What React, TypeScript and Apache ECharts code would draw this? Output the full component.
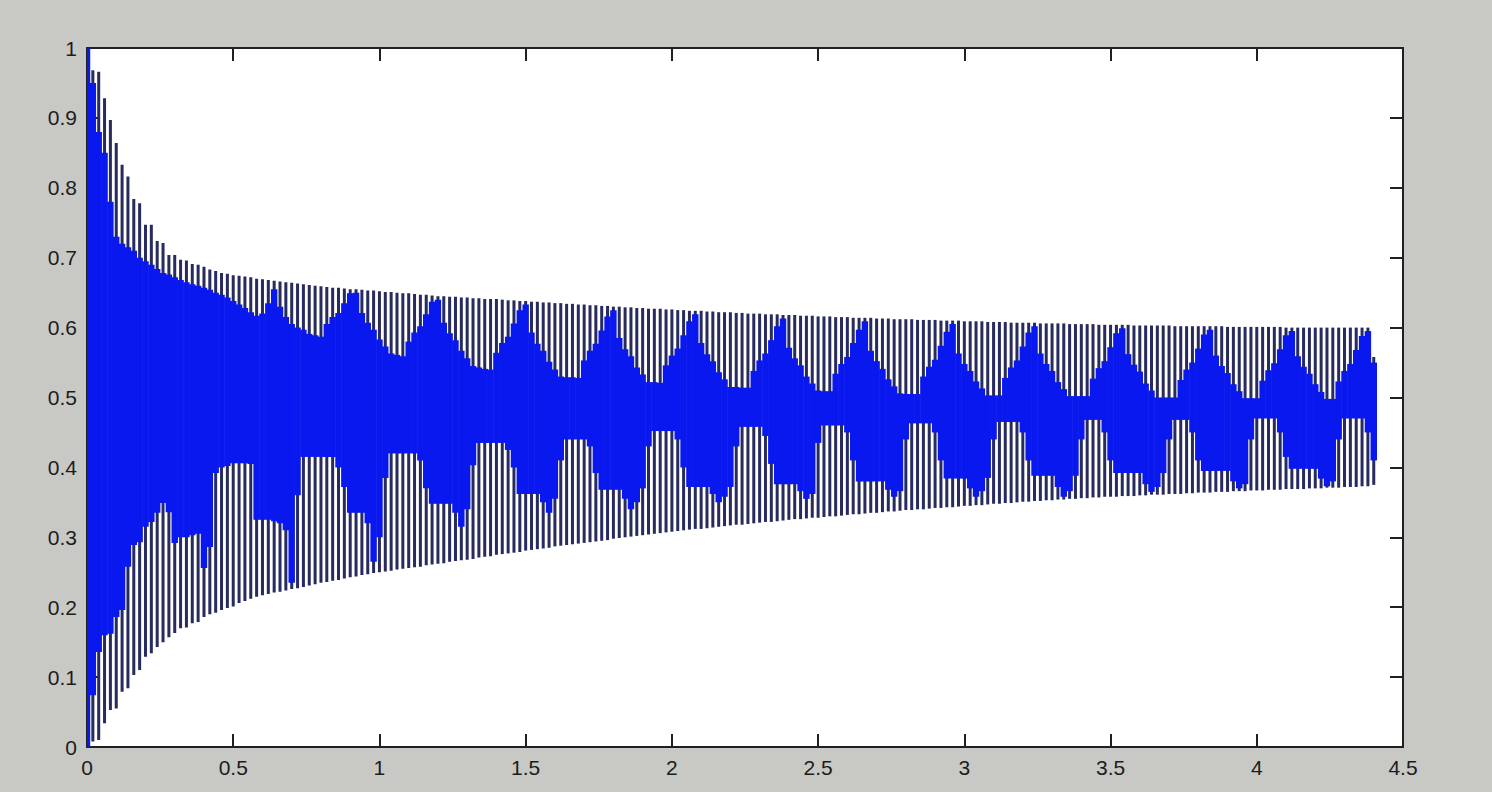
import React, { useEffect, useRef } from "react";
import * as echarts from "echarts";

// sample positions of the oscillation (one stripe each)
const xs = [
  0.00,0.02,0.04,0.06,0.08,0.10,0.12,0.14,0.16,0.18,
  0.20,0.22,0.24,0.26,0.28,0.30,0.32,0.34,0.36,0.38,
  0.40,0.42,0.44,0.46,0.48,0.50,0.52,0.54,0.56,0.58,
  0.60,0.62,0.64,0.66,0.68,0.70,0.72,0.74,0.76,0.78,
  0.80,0.82,0.84,0.86,0.88,0.90,0.92,0.94,0.96,0.98,
  1.00,1.02,1.04,1.06,1.08,1.10,1.12,1.14,1.16,1.18,
  1.20,1.22,1.24,1.26,1.28,1.30,1.32,1.34,1.36,1.38,
  1.40,1.42,1.44,1.46,1.48,1.50,1.52,1.54,1.56,1.58,
  1.60,1.62,1.64,1.66,1.68,1.70,1.72,1.74,1.76,1.78,
  1.80,1.82,1.84,1.86,1.88,1.90,1.92,1.94,1.96,1.98,
  2.00,2.02,2.04,2.06,2.08,2.10,2.12,2.14,2.16,2.18,
  2.20,2.22,2.24,2.26,2.28,2.30,2.32,2.34,2.36,2.38,
  2.40,2.42,2.44,2.46,2.48,2.50,2.52,2.54,2.56,2.58,
  2.60,2.62,2.64,2.66,2.68,2.70,2.72,2.74,2.76,2.78,
  2.80,2.82,2.84,2.86,2.88,2.90,2.92,2.94,2.96,2.98,
  3.00,3.02,3.04,3.06,3.08,3.10,3.12,3.14,3.16,3.18,
  3.20,3.22,3.24,3.26,3.28,3.30,3.32,3.34,3.36,3.38,
  3.40,3.42,3.44,3.46,3.48,3.50,3.52,3.54,3.56,3.58,
  3.60,3.62,3.64,3.66,3.68,3.70,3.72,3.74,3.76,3.78,
  3.80,3.82,3.84,3.86,3.88,3.90,3.92,3.94,3.96,3.98,
  4.00,4.02,4.04,4.06,4.08,4.10,4.12,4.14,4.16,4.18,
  4.20,4.22,4.24,4.26,4.28,4.30,4.32,4.34,4.36,4.38,
  4.40,
];

// outer upper envelope (top of each stripe)
const hi = [
  1.000,0.968,0.966,0.928,0.897,0.864,0.833,0.816,0.784,0.778,
  0.747,0.747,0.724,0.721,0.704,0.704,0.697,0.696,0.691,0.690,
  0.687,0.683,0.681,0.678,0.677,0.675,0.674,0.673,0.672,0.670,
  0.669,0.668,0.667,0.666,0.665,0.664,0.663,0.662,0.661,0.660,
  0.659,0.658,0.657,0.657,0.656,0.655,0.655,0.654,0.653,0.653,
  0.652,0.651,0.651,0.650,0.649,0.649,0.648,0.647,0.647,0.646,
  0.645,0.645,0.644,0.644,0.643,0.643,0.642,0.642,0.641,0.641,
  0.641,0.640,0.639,0.639,0.638,0.638,0.637,0.637,0.636,0.636,
  0.635,0.635,0.634,0.634,0.633,0.633,0.632,0.632,0.631,0.631,
  0.630,0.630,0.629,0.629,0.628,0.628,0.627,0.627,0.627,0.626,
  0.626,0.625,0.625,0.624,0.624,0.624,0.623,0.623,0.622,0.622,
  0.622,0.621,0.621,0.620,0.620,0.620,0.619,0.619,0.619,0.618,
  0.618,0.618,0.617,0.617,0.617,0.616,0.616,0.616,0.615,0.615,
  0.615,0.614,0.614,0.614,0.614,0.613,0.613,0.613,0.612,0.612,
  0.612,0.612,0.611,0.611,0.611,0.611,0.610,0.610,0.610,0.610,
  0.609,0.609,0.609,0.609,0.608,0.608,0.608,0.608,0.607,0.607,
  0.607,0.607,0.607,0.606,0.606,0.606,0.606,0.606,0.605,0.605,
  0.605,0.605,0.605,0.604,0.604,0.604,0.604,0.604,0.604,0.603,
  0.603,0.603,0.603,0.603,0.603,0.603,0.602,0.602,0.602,0.602,
  0.602,0.602,0.602,0.602,0.602,0.601,0.601,0.601,0.601,0.601,
  0.601,0.601,0.601,0.601,0.601,0.600,0.600,0.600,0.600,0.600,
  0.600,0.600,0.600,0.600,0.600,0.600,0.600,0.600,0.600,0.600,
  0.558,
];

// upper edge of the solid band
const top = [
  1.000,0.950,0.880,0.850,0.780,0.730,0.720,0.715,0.710,0.700,
  0.695,0.690,0.684,0.678,0.676,0.672,0.668,0.665,0.662,0.660,
  0.657,0.654,0.650,0.647,0.643,0.638,0.633,0.628,0.622,0.617,
  0.620,0.635,0.655,0.630,0.615,0.605,0.600,0.597,0.591,0.589,
  0.587,0.605,0.615,0.621,0.635,0.649,0.650,0.621,0.607,0.597,
  0.583,0.573,0.563,0.561,0.559,0.580,0.593,0.602,0.619,0.637,
  0.640,0.607,0.592,0.582,0.567,0.556,0.545,0.543,0.541,0.540,
  0.564,0.578,0.587,0.606,0.625,0.633,0.593,0.577,0.567,0.551,
  0.540,0.530,0.529,0.529,0.528,0.553,0.567,0.577,0.596,0.616,
  0.625,0.585,0.569,0.559,0.543,0.533,0.522,0.522,0.521,0.546,
  0.560,0.570,0.589,0.609,0.619,0.578,0.562,0.552,0.536,0.526,
  0.515,0.515,0.514,0.514,0.538,0.553,0.563,0.582,0.602,0.613,
  0.571,0.556,0.546,0.530,0.520,0.510,0.509,0.509,0.534,0.548,
  0.558,0.578,0.597,0.609,0.567,0.552,0.541,0.526,0.516,0.506,
  0.505,0.505,0.505,0.530,0.544,0.554,0.574,0.594,0.605,0.563,
  0.548,0.538,0.523,0.513,0.503,0.503,0.503,0.528,0.543,0.553,
  0.573,0.593,0.602,0.563,0.548,0.538,0.522,0.512,0.502,0.502,
  0.502,0.502,0.527,0.542,0.552,0.572,0.592,0.599,0.562,0.547,
  0.537,0.520,0.510,0.500,0.500,0.500,0.500,0.525,0.540,0.550,
  0.570,0.590,0.597,0.560,0.545,0.535,0.519,0.509,0.499,0.499,
  0.499,0.524,0.539,0.549,0.569,0.589,0.595,0.559,0.544,0.534,
  0.519,0.508,0.498,0.498,0.523,0.538,0.548,0.568,0.588,0.595,
  0.550,
];

// lower edge of the solid band
const bot = [
  0.000,0.074,0.136,0.160,0.162,0.186,0.196,0.258,0.289,0.293,
  0.315,0.322,0.335,0.349,0.336,0.292,0.300,0.300,0.303,0.305,
  0.256,0.286,0.392,0.400,0.402,0.406,0.406,0.406,0.405,0.325,
  0.325,0.325,0.323,0.320,0.310,0.235,0.360,0.415,0.415,0.415,
  0.415,0.415,0.415,0.400,0.372,0.335,0.335,0.335,0.320,0.265,
  0.300,0.385,0.420,0.420,0.420,0.420,0.420,0.410,0.370,0.348,
  0.348,0.348,0.348,0.335,0.315,0.340,0.403,0.435,0.435,0.435,
  0.435,0.435,0.425,0.400,0.362,0.362,0.362,0.362,0.350,0.335,
  0.355,0.410,0.440,0.440,0.440,0.440,0.430,0.392,0.368,0.368,
  0.368,0.368,0.355,0.340,0.350,0.370,0.430,0.452,0.452,0.452,
  0.452,0.440,0.400,0.372,0.372,0.372,0.372,0.362,0.350,0.358,
  0.372,0.430,0.458,0.458,0.458,0.458,0.445,0.405,0.376,0.376,
  0.376,0.376,0.366,0.355,0.362,0.435,0.460,0.460,0.460,0.460,
  0.450,0.410,0.380,0.380,0.380,0.380,0.380,0.368,0.358,0.366,
  0.440,0.463,0.463,0.463,0.463,0.450,0.410,0.384,0.384,0.384,
  0.384,0.370,0.358,0.366,0.385,0.440,0.465,0.465,0.465,0.465,
  0.450,0.410,0.388,0.388,0.388,0.388,0.372,0.358,0.366,0.388,
  0.440,0.468,0.468,0.468,0.450,0.410,0.392,0.392,0.392,0.392,
  0.392,0.376,0.365,0.372,0.392,0.440,0.468,0.468,0.468,0.450,
  0.410,0.395,0.395,0.395,0.395,0.395,0.380,0.370,0.376,0.440,
  0.470,0.470,0.470,0.470,0.450,0.415,0.398,0.398,0.398,0.398,
  0.398,0.384,0.373,0.380,0.440,0.470,0.470,0.470,0.470,0.450,
  0.410,
];

// outer lower envelope (bottom of each stripe)
const lo = [
  0.000,0.008,0.010,0.034,0.053,0.055,0.079,0.084,0.103,0.110,
  0.129,0.134,0.143,0.150,0.157,0.163,0.170,0.171,0.177,0.179,
  0.186,0.190,0.192,0.196,0.199,0.201,0.206,0.209,0.212,0.215,
  0.217,0.219,0.221,0.222,0.224,0.226,0.227,0.229,0.231,0.233,
  0.235,0.236,0.238,0.239,0.241,0.243,0.244,0.246,0.247,0.249,
  0.250,0.251,0.252,0.254,0.255,0.256,0.257,0.258,0.260,0.261,
  0.262,0.263,0.265,0.266,0.267,0.268,0.269,0.271,0.272,0.273,
  0.275,0.276,0.277,0.278,0.279,0.281,0.282,0.283,0.284,0.285,
  0.287,0.288,0.289,0.290,0.291,0.292,0.293,0.294,0.295,0.296,
  0.298,0.299,0.300,0.301,0.302,0.303,0.304,0.305,0.306,0.307,
  0.308,0.309,0.310,0.311,0.312,0.312,0.313,0.314,0.315,0.316,
  0.317,0.318,0.318,0.319,0.320,0.321,0.322,0.322,0.323,0.324,
  0.325,0.326,0.326,0.327,0.328,0.328,0.329,0.330,0.330,0.331,
  0.332,0.333,0.333,0.334,0.335,0.335,0.336,0.337,0.337,0.338,
  0.339,0.339,0.340,0.340,0.341,0.342,0.342,0.343,0.343,0.344,
  0.345,0.345,0.346,0.346,0.347,0.348,0.348,0.349,0.349,0.350,
  0.351,0.351,0.352,0.352,0.353,0.353,0.354,0.354,0.355,0.355,
  0.356,0.356,0.357,0.357,0.358,0.358,0.358,0.359,0.359,0.359,
  0.360,0.360,0.361,0.361,0.361,0.362,0.362,0.362,0.363,0.363,
  0.364,0.364,0.364,0.365,0.365,0.365,0.366,0.366,0.366,0.367,
  0.367,0.367,0.368,0.368,0.368,0.369,0.369,0.369,0.369,0.370,
  0.370,0.370,0.371,0.371,0.371,0.372,0.372,0.372,0.373,0.373,
  0.375,
];

const X_MIN = 0, X_MAX = 4.5, X_STEP = 0.5;
const Y_MIN = 0, Y_MAX = 1, Y_STEP = 0.1;
const SAMPLE_HALF = 0.01;

const FONT = "'Liberation Sans', Arial, Helvetica, sans-serif";
const AXIS_COLOR = "#202020";
const BAND_COLOR = "#0a18f0";
const STRIPE_COLOR = "#272b5e";

export default function App() {
  const ref = useRef<HTMLDivElement>(null);

  useEffect(() => {
    if (!ref.current) return;
    const chart = echarts.init(ref.current, null, { renderer: "svg" });
    const rows = xs.map((x, i) => [x, hi[i], top[i], bot[i], lo[i]]);

    const stripeItem = (params: any, api: any) => {
      const x = api.value(0);
      const p1 = api.coord([x, api.value(1)]);
      const p2 = api.coord([x, api.value(4)]);
      const cs = params.coordSys;
      const rect = echarts.graphic.clipRectByRect(
        { x: p1[0] - 1.5, y: p1[1], width: 3, height: p2[1] - p1[1] },
        { x: cs.x, y: cs.y, width: cs.width, height: cs.height }
      );
      if (!rect) return null;
      return { type: "rect", shape: rect, style: { fill: STRIPE_COLOR } };
    };

    const bandItem = (params: any, api: any) => {
      const x = api.value(0);
      const a = api.coord([x - SAMPLE_HALF, api.value(2)]);
      const b = api.coord([x + SAMPLE_HALF, api.value(3)]);
      const cs = params.coordSys;
      const rect = echarts.graphic.clipRectByRect(
        { x: a[0] - 0.3, y: a[1], width: b[0] - a[0] + 0.6, height: b[1] - a[1] },
        { x: cs.x, y: cs.y, width: cs.width, height: cs.height }
      );
      if (!rect) return null;
      return { type: "rect", shape: rect, style: { fill: BAND_COLOR } };
    };

    const tick = { show: true, inside: true, length: 13, lineStyle: { color: AXIS_COLOR, width: 2 } };
    const line = { show: true, onZero: false, lineStyle: { color: AXIS_COLOR, width: 2 } };
    const label = { fontFamily: FONT, fontSize: 21, color: "#1c1c1c", margin: 10 };

    chart.setOption({
      animation: false,
      backgroundColor: "#c8c9c4",
      grid: {
        left: 87, right: 89, top: 48, bottom: 45,
        show: true, backgroundColor: "#ffffff", borderWidth: 0,
      },
      xAxis: [
        { type: "value", min: X_MIN, max: X_MAX, interval: X_STEP, position: "bottom",
          axisLine: line, axisTick: tick, axisLabel: label, splitLine: { show: false } },
        { type: "value", min: X_MIN, max: X_MAX, interval: X_STEP, position: "top",
          axisLine: line, axisTick: tick, axisLabel: { show: false }, splitLine: { show: false } },
      ],
      yAxis: [
        { type: "value", min: Y_MIN, max: Y_MAX, interval: Y_STEP, position: "left",
          axisLine: line, axisTick: tick, axisLabel: label, splitLine: { show: false } },
        { type: "value", min: Y_MIN, max: Y_MAX, interval: Y_STEP, position: "right",
          axisLine: line, axisTick: tick, axisLabel: { show: false }, splitLine: { show: false } },
      ],
      series: [
        { type: "custom", name: "stripes", xAxisIndex: 0, yAxisIndex: 0, silent: true,
          renderItem: stripeItem, data: rows, encode: { x: 0, y: [1, 4] }, z: 2 },
        { type: "custom", name: "band", xAxisIndex: 0, yAxisIndex: 0, silent: true,
          renderItem: bandItem, data: rows, encode: { x: 0, y: [2, 3] }, z: 3 },
      ],
    });

    return () => chart.dispose();
  }, []);

  return (
    <div
      ref={ref}
      style={{ position: "fixed", left: 0, top: 0, width: 1492, height: 792 }}
    />
  );
}
